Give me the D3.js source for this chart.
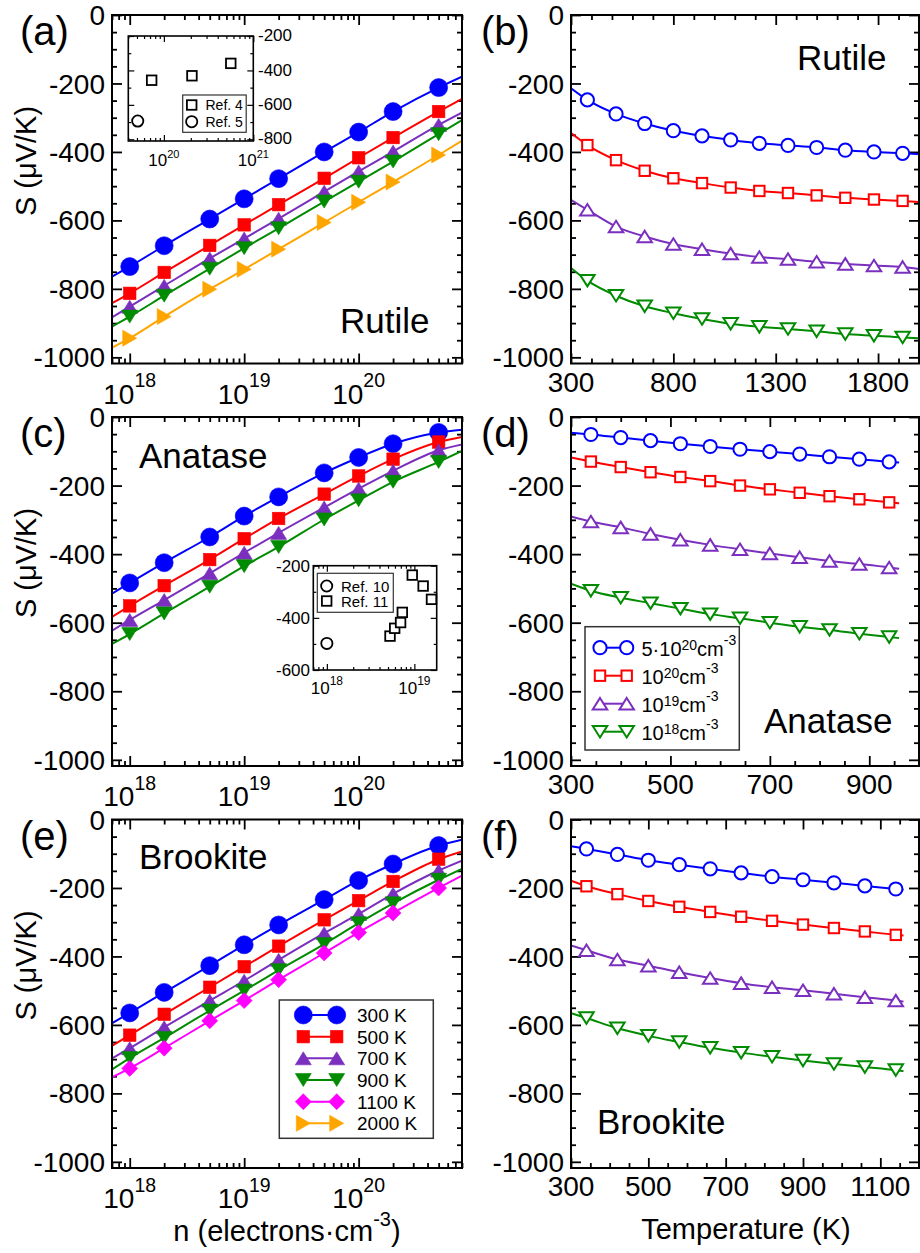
<!DOCTYPE html>
<html>
<head>
<meta charset="utf-8">
<script src="https://cdn.jsdelivr.net/npm/d3@7/dist/d3.min.js"></script>
<style>
html,body{margin:0;padding:0;background:#fff;}
svg{display:block;}
text{font-family:"Liberation Sans",Arial,Helvetica,sans-serif;fill:#000;}
</style>
</head>
<body>
<svg id="chart" width="920" height="1253"></svg>
<script>
// ================= DATA =================
// carrier concentration grid (line ends at the axis limits, markers in between)
const nLine = [7e17, 1e18, 2e18, 5e18, 1e19, 2e19, 5e19, 1e20, 2e20, 5e20, 8e20];
const nDomain = [7e17, 8e20];
const nMajorTicks = [1e18, 1e19, 1e20];
const nTickExp = ["18", "19", "20"];

// (a) Rutile, S (uV/K) vs n
const rut300  = [-764, -735, -674, -596, -537, -478, -400, -342, -282, -212, -180];
const rut500  = [-842, -813, -752, -673, -613, -554, -477, -417, -358, -282, -245];
const rut700  = [-883, -852, -791, -711, -653, -595, -516, -457, -399, -321, -285];
const rut900  = [-910, -881, -820, -741, -681, -623, -545, -487, -428, -348, -307];
const rut2000 = [-972, -944, -881, -801, -743, -684, -606, -547, -488, -409, -367];

// (c) Anatase
const ana300 = [-515, -484, -425, -350, -289, -233, -163, -118, -78, -45, -37];
const ana500 = [-583, -551, -492, -416, -355, -296, -225, -172, -123, -73, -58];
const ana700 = [-623, -592, -534, -456, -396, -338, -264, -209, -157, -97, -80];
const ana900 = [-662, -633, -573, -495, -435, -379, -299, -243, -189, -131, -99];

// (e) Brookite
const brk300  = [-595, -565, -505, -427, -366, -308, -234, -178, -130, -76, -59];
const brk500  = [-661, -630, -569, -490, -430, -370, -293, -237, -181, -116, -93];
const brk700  = [-698, -668, -607, -529, -471, -410, -332, -276, -217, -149, -120];
const brk900  = [-730, -697, -638, -558, -500, -440, -364, -303, -245, -176, -144];
const brk1100 = [-753, -727, -668, -588, -529, -468, -390, -330, -273, -200, -164];

// (b) Rutile, S vs T
const tRut = [300, 380, 520, 660, 800, 940, 1080, 1220, 1360, 1500, 1640, 1780, 1920, 2000];
const rutT5e20 = [-214, -248, -289, -317, -338, -353, -365, -375, -381, -387, -395, -400, -404, -406];
const rutT1e20 = [-345, -380, -424, -455, -477, -491, -504, -514, -520, -527, -534, -539, -543, -546];
const rutT1e19 = [-540, -569, -618, -647, -669, -684, -697, -707, -713, -721, -727, -732, -736, -742];
const rutT1e18 = [-739, -776, -820, -851, -871, -888, -902, -911, -917, -924, -932, -937, -942, -944];
const tRutTicks = [300, 800, 1300, 1800];

// (d) Anatase, S vs T
const tAna = [300, 340, 400, 460, 520, 580, 640, 700, 760, 820, 880, 940, 960];
const anaT5e20 = [-46, -51, -60, -69, -78, -86, -94, -101, -108, -116, -123, -131, -133];
const anaT1e20 = [-118, -130, -146, -161, -175, -187, -200, -211, -221, -231, -240, -249, -252];
const anaT1e19 = [-290, -305, -322, -341, -358, -373, -386, -398, -409, -420, -429, -439, -443];
const anaT1e18 = [-486, -507, -527, -543, -559, -575, -587, -600, -612, -621, -632, -642, -645];
const tAnaTicks = [300, 500, 700, 900];

// (f) Brookite, S vs T
const tBrk = [300, 340, 420, 500, 580, 660, 740, 820, 900, 980, 1060, 1140, 1160];
const brkT5e20 = [-78, -86, -102, -119, -132, -144, -156, -167, -176, -185, -194, -203, -205];
const brkT1e20 = [-179, -195, -218, -238, -255, -270, -284, -296, -307, -317, -327, -337, -339];
const brkT1e19 = [-368, -382, -409, -427, -446, -463, -478, -490, -499, -509, -519, -529, -532];
const brkT1e18 = [-566, -580, -610, -632, -650, -667, -681, -693, -704, -714, -723, -732, -735];
const tBrkTicks = [300, 500, 700, 900, 1100];

// S axis
const sDomain = [-1018, 0];
const sTicks = [0, -200, -400, -600, -800, -1000];

// inset (a): experiments
const ref4N = [7.3e19, 2.06e20, 5.6e20];
const ref4S = [-457, -431, -359];
const ref5N = [5.1e19];
const ref5S = [-694];
// inset (c)
const ref10N = [1e18];
const ref10S = [-498];
const ref11N = [5.27e18, 5.96e18, 6.96e18, 7.28e18, 9.46e18, 1.26e19, 1.57e19];
const ref11S = [-470, -440, -418, -379, -236, -278, -329];

// legends
const tempLabels = ["300 K", "500 K", "700 K", "900 K", "1100 K", "2000 K"];
const concLabels = [["5\u00b710", "20"], ["10", "20"], ["10", "19"], ["10", "18"]];

// ================= STYLE =================
const C = {blue: "#0000ff", red: "#ff0000", purple: "#7b2fbe", green: "#008b00", magenta: "#ff00ff", orange: "#ffa500"};
const tempColors = [C.blue, C.red, C.purple, C.green, C.magenta, C.orange];
const tempShapes = ["circle", "square", "up", "down", "diamond", "right"];
const concColors = [C.blue, C.red, C.purple, C.green];
const concShapes = ["circle", "square", "up", "down"];

const rows = [[15, 363.5], [417, 766], [819.5, 1168]];
const cols = [[112, 462], [571, 919]];

const svg = d3.select("#chart");

// ================= HELPERS =================
function marker(g, shape, cx, cy, filled, color, k, swOpen) {
  k = k || 1;
  const fill = filled ? color : "#fff";
  const sw = filled ? 0.6 : (swOpen || 2);
  let el;
  if (shape === "circle") {
    el = g.append("circle").attr("cx", cx).attr("cy", cy).attr("r", (filled ? 9 : 6.6) * k);
  } else if (shape === "square") {
    const a = (filled ? 12.5 : 10.4) * k;
    el = g.append("rect").attr("x", cx - a / 2).attr("y", cy - a / 2).attr("width", a).attr("height", a);
  } else {
    const w = (filled ? 16 : 14.5) * k, h = (filled ? 13 : 11.5) * k;
    let p;
    if (shape === "up") p = [[cx, cy - h / 2], [cx + w / 2, cy + h / 2], [cx - w / 2, cy + h / 2]];
    else if (shape === "down") p = [[cx, cy + h / 2], [cx + w / 2, cy - h / 2], [cx - w / 2, cy - h / 2]];
    else if (shape === "diamond") { const d = 8 * k; p = [[cx, cy - d], [cx + d, cy], [cx, cy + d], [cx - d, cy]]; }
    else if (shape === "right") { const ww = 14 * k, hh = 16 * k; p = [[cx + ww / 2, cy], [cx - ww / 2, cy - hh / 2], [cx - ww / 2, cy + hh / 2]]; }
    el = g.append("path").attr("d", "M" + p.map(q => q.join(",")).join("L") + "Z");
  }
  el.attr("fill", fill).attr("stroke", color).attr("stroke-width", sw).attr("stroke-linejoin", "miter");
  return el;
}

// rich text with superscripts; parts: [text, raisePx?, supSize?]
function rich(g, x, y, parts, fs, anchor) {
  const t = g.append("text").attr("x", x).attr("y", y).attr("font-size", fs).attr("text-anchor", anchor || "start");
  let cur = 0;
  parts.forEach(p => {
    const sp = t.append("tspan").text(p[0]);
    const raise = p[1] || 0;
    if (raise !== cur) { sp.attr("dy", cur - raise); cur = raise; }
    if (p[2]) sp.attr("font-size", p[2]);
  });
  return t;
}

function logTicks(dom) {
  const maj = [], min = [];
  for (let e = Math.floor(Math.log10(dom[0])); e <= Math.ceil(Math.log10(dom[1])); e++) {
    for (let m = 1; m <= 9; m++) {
      const v = m * Math.pow(10, e);
      if (v < dom[0] * 0.999 || v > dom[1] * 1.001) continue;
      (m === 1 ? maj : min).push(v);
    }
  }
  return {maj, min};
}

function addTicks(g, x, y, o) {
  const [xl, xr] = x.range(), [yb, yt] = y.range();
  const st = s => {
    s.select(".domain").remove();
    s.selectAll("text").remove();
    s.selectAll(".tick line").attr("stroke", "#000").attr("stroke-width", o.tw);
  };
  const f = () => "";
  const defs = [
    [d3.axisBottom, x, `translate(0,${yb})`, o.xMaj, o.xMin],
    [d3.axisTop, x, `translate(0,${yt})`, o.xMaj, o.xMin],
    [d3.axisLeft, y, `translate(${xl},0)`, o.yMaj, o.yMin],
    [d3.axisRight, y, `translate(${xr},0)`, o.yMaj, o.yMin]
  ];
  defs.forEach(([ax, sc, tr, maj, min]) => {
    g.append("g").attr("transform", tr).call(ax(sc).tickValues(maj).tickSize(-o.maj).tickFormat(f)).call(st);
    g.append("g").attr("transform", tr).call(ax(sc).tickValues(min).tickSize(-o.min).tickFormat(f)).call(st);
  });
}

function frame(g, x, y, sw) {
  const [xl, xr] = x.range(), [yb, yt] = y.range();
  g.append("rect").attr("x", xl).attr("y", yt).attr("width", xr - xl).attr("height", yb - yt)
    .attr("fill", "none").attr("stroke", "#000").attr("stroke-width", sw);
}

function yLabels(g, x, y) {
  const xl = x.range()[0];
  sTicks.forEach(v => {
    g.append("text").attr("x", xl - 7).attr("y", y(v)).attr("dy", "0.36em")
      .attr("text-anchor", "end").attr("font-size", 28).text(v);
  });
}

function series(g, x, y, xs, ys, color, shape, filled) {
  const pts = xs.map((v, i) => [v, ys[i]]);
  const line = d3.line().x(d => x(d[0])).y(d => y(d[1])).curve(d3.curveMonotoneX);
  g.append("path").attr("d", line(pts)).attr("fill", "none").attr("stroke", color).attr("stroke-width", 2);
  pts.slice(1, -1).forEach(p => marker(g, shape, x(p[0]), y(p[1]), filled, color));
}

const yMinor = d3.range(-1000, 1, 50).filter(v => v % 200 !== 0);

// ================= LEFT COLUMN: S vs n =================
function nPanel(r, data, colorIdx, letter, name, namePos) {
  const g = svg.append("g");
  const x = d3.scaleLog().domain(nDomain).range(cols[0]);
  const y = d3.scaleLinear().domain(sDomain).range([rows[r][1], rows[r][0]]);
  const lt = logTicks(nDomain);
  addTicks(g, x, y, {xMaj: lt.maj, xMin: lt.min, yMaj: sTicks, yMin: yMinor, maj: 10, min: 5, tw: 1.8});
  const clipId = "clipn" + r;
  g.append("clipPath").attr("id", clipId).append("rect")
    .attr("x", cols[0][0]).attr("y", rows[r][0]).attr("width", cols[0][1] - cols[0][0]).attr("height", rows[r][1] - rows[r][0]);
  const gd = g.append("g").attr("clip-path", `url(#${clipId})`);
  data.forEach((ys, i) => series(gd, x, y, nLine, ys, tempColors[colorIdx[i]], tempShapes[colorIdx[i]], true));
  frame(g, x, y, 2);
  yLabels(g, x, y);
  nMajorTicks.forEach((v, i) => {
    rich(g, x(v), rows[r][1] + 40, [["10"], [nTickExp[i], 16.5, 19.5]], 28, "middle");
  });
  g.append("text").attr("x", 20).attr("y", rows[r][0] + 30).attr("font-size", 40).text(letter);
  g.append("text").attr("x", namePos[0]).attr("y", namePos[1]).attr("font-size", 35).text(name);
  g.append("text").attr("transform", `translate(36,${rows[r][0] + 146}) rotate(-90)`)
    .attr("text-anchor", "middle").attr("font-size", 29).text("S (\u03bcV/K)");
  return {g, x, y};
}

const pa = nPanel(0, [rut300, rut500, rut700, rut900, rut2000], [0, 1, 2, 3, 5], "(a)", "Rutile", [340, 333]);
const pc = nPanel(1, [ana300, ana500, ana700, ana900], [0, 1, 2, 3], "(c)", "Anatase", [139, 468]);
const pe = nPanel(2, [brk300, brk500, brk700, brk900, brk1100], [0, 1, 2, 3, 4], "(e)", "Brookite", [139, 869]);

rich(pe.g, 287, 1241, [["n (electrons\u00b7cm"], ["-3", 15, 20], [")"]], 29, "middle");

// ---- inset (a)
(function () {
  const g = svg.append("g");
  const dom = [4e19, 1e21];
  const x = d3.scaleLog().domain(dom).range([128.3, 253.3]);
  const y = d3.scaleLinear().domain([-810, -200]).range([141, 36]);
  g.append("rect").attr("x", 128.3).attr("y", 36).attr("width", 125).attr("height", 105).attr("fill", "#fff");
  const lt = logTicks(dom);
  addTicks(g, x, y, {xMaj: lt.maj, xMin: lt.min, yMaj: [-200, -400, -600, -800], yMin: [-300, -500, -700], maj: 6, min: 3, tw: 1.2});
  frame(g, x, y, 1.6);
  [-200, -400, -600, -800].forEach(v => g.append("text").attr("x", 258).attr("y", y(v)).attr("dy", "0.3em").attr("font-size", 17).text(v));
  [[1e20, "20"], [1e21, "21"]].forEach(([v, e]) => rich(g, x(v), 165.5, [["10"], [e, 8, 11]], 17, "middle"));
  ref4N.forEach((n, i) => marker(g, "square", x(n), y(ref4S[i]), false, "#000", 0.92, 1.8));
  ref5N.forEach((n, i) => marker(g, "circle", x(n), y(ref5S[i]), false, "#000", 0.85, 1.8));
  // legend
  g.append("rect").attr("x", 182.7).attr("y", 95).attr("width", 63.5).attr("height", 37.3).attr("fill", "#fff").attr("stroke", "#333").attr("stroke-width", 1.2);
  marker(g, "square", 191.7, 105, false, "#000", 0.92, 1.8);
  marker(g, "circle", 191.7, 121.7, false, "#000", 0.85, 1.8);
  g.append("text").attr("x", 205.5).attr("y", 110).attr("font-size", 14).text("Ref. 4");
  g.append("text").attr("x", 205.5).attr("y", 126.7).attr("font-size", 14).text("Ref. 5");
})();

// ---- inset (c)
(function () {
  const g = svg.append("g");
  const dom = [7e17, 1.8e19];
  const x = d3.scaleLog().domain(dom).range([313.3, 436.7]);
  const y = d3.scaleLinear().domain([-600, -200]).range([670, 565.7]);
  g.append("rect").attr("x", 313.3).attr("y", 565.7).attr("width", 123.4).attr("height", 104.3).attr("fill", "#fff");
  const lt = logTicks(dom);
  addTicks(g, x, y, {xMaj: lt.maj, xMin: lt.min, yMaj: [-200, -400, -600], yMin: [-300, -500], maj: 6, min: 3, tw: 1.2});
  frame(g, x, y, 1.6);
  [-200, -400, -600].forEach(v => g.append("text").attr("x", 310).attr("y", y(v)).attr("dy", "0.36em").attr("text-anchor", "end").attr("font-size", 17).text(v));
  [[1e18, "18"], [1e19, "19"]].forEach(([v, e]) => rich(g, x(v), 694, [["10"], [e, 9, 12]], 17, "middle"));
  ref10N.forEach((n, i) => marker(g, "circle", x(n), y(ref10S[i]), false, "#000", 0.85, 1.8));
  ref11N.forEach((n, i) => marker(g, "square", x(n), y(ref11S[i]), false, "#000", 0.92, 1.8));
  g.append("rect").attr("x", 317.3).attr("y", 573.3).attr("width", 76).attr("height", 39).attr("fill", "#fff").attr("stroke", "#333").attr("stroke-width", 1.2);
  marker(g, "circle", 326.7, 586, false, "#000", 0.85, 1.8);
  marker(g, "square", 326.7, 601, false, "#000", 0.92, 1.8);
  g.append("text").attr("x", 341).attr("y", 591.5).attr("font-size", 15).text("Ref. 10");
  g.append("text").attr("x", 341).attr("y", 606.5).attr("font-size", 15).text("Ref. 11");
})();

// ---- legend (e)
(function () {
  const g = svg.append("g");
  g.append("rect").attr("x", 279.3).attr("y", 1000).attr("width", 154).attr("height", 138.3)
    .attr("fill", "#fff").attr("stroke", "#333").attr("stroke-width", 1.5);
  tempLabels.forEach((lab, i) => {
    const cy = 1015 + i * 21.67;
    g.append("line").attr("x1", 303.3).attr("x2", 336.7).attr("y1", cy).attr("y2", cy).attr("stroke", tempColors[i]).attr("stroke-width", 2);
    marker(g, tempShapes[i], 303.3, cy, true, tempColors[i]);
    marker(g, tempShapes[i], 336.7, cy, true, tempColors[i]);
    g.append("text").attr("x", 357).attr("y", cy + 7).attr("font-size", 19).text(lab);
  });
})();

// ================= RIGHT COLUMN: S vs T =================
function tPanel(r, xDom, xMaj, xMinStep, xs, data, letter, name, namePos) {
  const g = svg.append("g");
  const x = d3.scaleLinear().domain(xDom).range(cols[1]);
  const y = d3.scaleLinear().domain(sDomain).range([rows[r][1], rows[r][0]]);
  const xMin = d3.range(xDom[0], xDom[1] + 1, xMinStep).filter(v => !xMaj.includes(v) && (v - xDom[0]) % (xMaj[1] - xMaj[0]) !== 0);
  addTicks(g, x, y, {xMaj: xMaj, xMin: xMin, yMaj: sTicks, yMin: yMinor, maj: 10, min: 5, tw: 1.8});
  const clipId = "clipt" + r;
  g.append("clipPath").attr("id", clipId).append("rect")
    .attr("x", cols[1][0]).attr("y", rows[r][0]).attr("width", cols[1][1] - cols[1][0]).attr("height", rows[r][1] - rows[r][0]);
  const gd = g.append("g").attr("clip-path", `url(#${clipId})`);
  data.forEach((ys, i) => series(gd, x, y, xs, ys, concColors[i], concShapes[i], false));
  frame(g, x, y, 2);
  yLabels(g, x, y);
  xMaj.forEach(v => g.append("text").attr("x", x(v)).attr("y", rows[r][1] + 28).attr("text-anchor", "middle").attr("font-size", 28).text(v));
  g.append("text").attr("x", 481).attr("y", rows[r][0] + 30).attr("font-size", 40).text(letter);
  g.append("text").attr("x", namePos[0]).attr("y", namePos[1]).attr("font-size", 35).text(name);
  return {g, x, y};
}

tPanel(0, [300, 2000], tRutTicks, 100, tRut, [rutT5e20, rutT1e20, rutT1e19, rutT1e18], "(b)", "Rutile", [797, 70]);
const pd = tPanel(1, [300, 1000], tAnaTicks, 50, tAna, [anaT5e20, anaT1e20, anaT1e19, anaT1e18], "(d)", "Anatase", [764, 733]);
const pf = tPanel(2, [300, 1200], tBrkTicks, 50, tBrk, [brkT5e20, brkT1e20, brkT1e19, brkT1e18], "(f)", "Brookite", [597, 1134]);

pf.g.append("text").attr("x", 746).attr("y", 1239).attr("text-anchor", "middle").attr("font-size", 29).text("Temperature (K)");

// ---- legend (d)
(function () {
  const g = svg.append("g");
  g.append("rect").attr("x", 585).attr("y", 626.7).attr("width", 154.3).attr("height", 123.3)
    .attr("fill", "#fff").attr("stroke", "#333").attr("stroke-width", 1.5);
  concLabels.forEach((lab, i) => {
    const cy = 647.7 + i * 28;
    g.append("line").attr("x1", 600).attr("x2", 626.7).attr("y1", cy).attr("y2", cy).attr("stroke", concColors[i]).attr("stroke-width", 2);
    marker(g, concShapes[i], 600, cy, false, concColors[i]);
    marker(g, concShapes[i], 626.7, cy, false, concColors[i]);
    rich(g, 641.5, cy + 8, [[lab[0]], [lab[1], 6, 14], ["cm"], ["-3", 11, 14]], 20, "start");
  });
})();
</script>
</body>
</html>
